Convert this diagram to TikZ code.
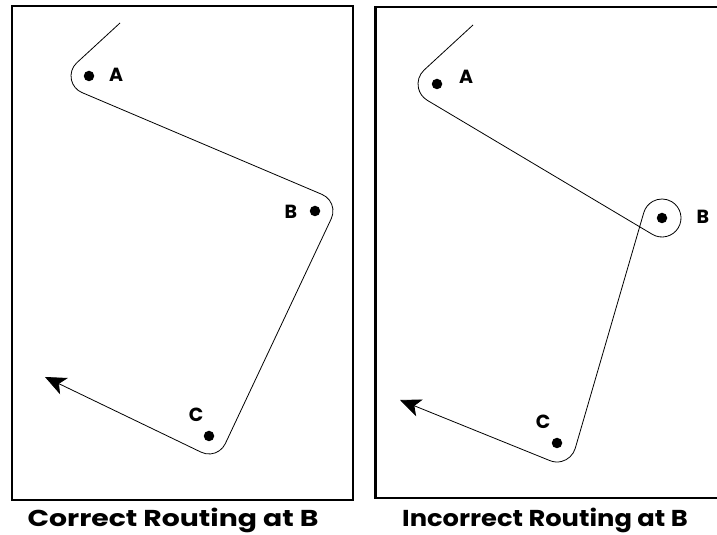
\documentclass[tikz,border=0pt]{standalone}
\usepackage{fontspec}
\setmainfont{Poppins}
\usetikzlibrary{calc,arrows.meta}
\begin{document}
\begin{tikzpicture}[x=1pt,y=1pt,
  frame/.style={draw=black,line width=2.6pt},
  route/.style={draw=black,line width=0.8pt},
  dot/.style={circle,fill=black,inner sep=0pt,minimum size=10.5pt},
  ptlabel/.style={font=\fontsize{19}{19}\selectfont\bfseries,inner sep=0pt},
  caption/.style={font=\fontsize{23}{23}\selectfont\bfseries,inner sep=0pt,anchor=base},
  tip/.style={-{Stealth[length=21pt,width=18pt,inset=5.5pt]}}]
\useasboundingbox (0,0) rectangle (717,535);
\fill[white] (0,0) rectangle (717,535);
% frames
\draw[frame] (12,35) rectangle (353,529);
\draw[frame] (722,528) -- (375.5,528) -- (375.5,37) -- (722,37);
% left diagram
\coordinate (s1) at (120,512);
\coordinate (e1) at (45,158);
\node[dot] (a1) at (89,459) {};
\node[dot] (b1) at (315,324) {};
\node[dot] (c1) at (209,99) {};
\node[ptlabel] (la1) at (116,460) {A};
\node[ptlabel] (lb1) at (291,323) {B};
\node[ptlabel] (lc1) at (196,120) {C};
\draw[route,tip] (s1) -- ($(a1)+(132.6:18pt)$)
  arc[start angle=132.6,end angle=247.01,radius=18pt]
  -- ($(b1)+(67.01:18pt)$)
  arc[start angle=67.01,end angle=-25.23,radius=18pt]
  -- ($(c1)+(-25.23:18pt)$)
  arc[start angle=-25.23,end angle=-115.71,radius=18pt]
  -- (e1);
% right diagram
\coordinate (s2) at (473,510);
\coordinate (e2) at (400,135);
\node[dot] (a2) at (437,451) {};
\node[dot] (b2) at (662,317) {};
\node[dot] (c2) at (557,92) {};
\node[ptlabel] (la2) at (466,458) {A};
\node[ptlabel] (lb2) at (703,318) {B};
\node[ptlabel] (lc2) at (543,113) {C};
\draw[route,tip] (s2) -- ($(a2)+(132.63:19pt)$)
  arc[start angle=132.63,end angle=239.22,radius=19pt]
  -- ($(b2)+(-120.78:19pt)$)
  arc[start angle=-120.78,end angle=163.78,radius=19pt]
  -- ($(c2)+(-16.22:19pt)$)
  arc[start angle=-16.22,end angle=-112.02,radius=19pt]
  -- (e2);
% captions
\node[caption,xscale=1.23] (cap1) at (173,8) {Correct Routing at B};
\node[caption,xscale=1.12] (cap2) at (545,9) {Incorrect Routing at B};
\end{tikzpicture}
\end{document}
